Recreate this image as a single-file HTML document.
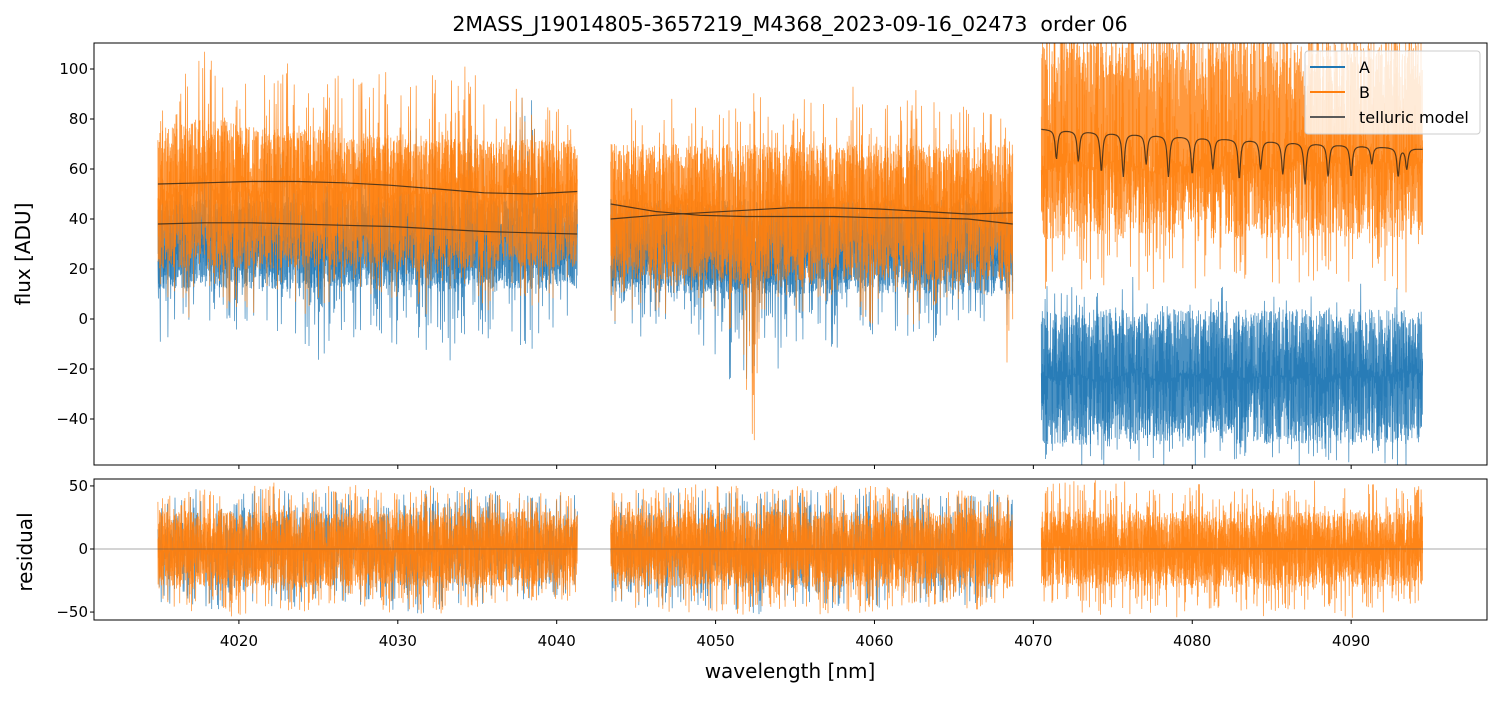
<!DOCTYPE html>
<html><head><meta charset="utf-8"><style>
body{margin:0;background:#fff}
svg text{font-family:"DejaVu Sans","Liberation Sans",sans-serif}
</style></head><body>
<svg id="c" width="1502" height="696" xmlns="http://www.w3.org/2000/svg"></svg>
<script>
// ---- data ----
const segStart=[4014.9,4043.4,4070.5];
const segEnd=[4041.3,4068.7,4094.5];
const aHi=[[55,62,68,72,75,68,72,80,70,75,72,70,68,75,70,72,78,70,75,80,72,70,85,110,75,70,65],
 [40,58,62,60,65,70,62,66,70,64,72,68,70,74,66,70,68,72,65,70,62,66,60,62,58,55],
 [15,10,14,12,10,14,18,12,10,15,14,12,16,10,14,15,12,14,10,14,15,12,14,18,15]];
const aLo=[[-15,-5,0,-10,-8,-5,0,-12,-5,-10,-20,-8,-15,-5,-20,-10,-8,-15,-25,-10,-12,-5,-10,-15,-8,-5,0],
 [-5,0,-10,-5,0,-8,-15,-25,-30,-20,-40,-10,-15,-10,-20,-8,-5,-10,-15,-5,-10,-5,0,-5,-10,0],
 [-60,-60,-58,-60,-60,-60,-58,-60,-60,-58,-60,-60,-60,-58,-60,-60,-60,-58,-60,-60,-60,-58,-60,-60,-60]];
const aCoreHi=[[48,48,48,48,48,48,48,48,48,48,48,48,48,48,48,48,48,48,48,48,48,48,48,48,48,48,48],
 [48,48,48,48,48,48,48,48,48,48,48,48,48,48,48,48,48,48,48,48,48,48,48,48,48,48],
 [4,4,2,4,4,4,2,4,4,4,4,4,2,4,4,4,4,4,4,4,4,4,4,4,4]];
const aCoreLo=[[12,12,12,12,12,12,12,12,12,12,12,12,12,12,12,12,12,12,12,12,12,12,12,12,12,12,12],
 [10,10,10,10,10,10,10,10,10,10,10,10,10,10,10,10,10,10,10,10,10,10,10,10,10,10],
 [-50,-50,-50,-50,-50,-50,-50,-50,-50,-50,-50,-50,-50,-50,-50,-50,-50,-50,-50,-50,-50,-50,-50,-50,-50]];
const bHi=[[80,95,105,110,100,110,95,100,105,98,110,100,95,105,100,90,95,100,98,105,95,90,100,95,92,90,85],
 [75,85,90,80,95,88,92,85,90,95,85,88,92,90,85,95,88,90,85,92,88,85,90,82,85,80],
 [112,112,112,112,112,112,112,112,112,112,112,112,112,112,112,112,112,112,112,112,112,112,112,112,105]];
const bLo=[[10,5,0,5,-10,5,0,5,10,0,5,0,10,5,-5,10,5,0,5,10,0,5,10,5,0,10,15],
 [-5,0,5,-3,0,5,0,-5,-10,-55,0,5,-5,0,5,0,-5,5,0,-5,5,0,10,5,0,-30],
 [5,10,15,8,12,15,10,5,15,10,12,8,15,10,12,5,15,10,15,12,10,15,12,10,20]];
const bCoreHi=[[76,78,80,80,80,78,78,76,76,76,76,76,74,74,74,74,72,72,72,72,72,72,72,72,72,72,72],
 [70,70,70,70,70,70,70,70,70,70,70,70,70,70,70,70,70,70,70,70,70,70,70,70,70,70],
 [115,115,115,115,115,115,115,115,115,115,115,115,115,115,115,115,115,115,115,115,115,115,115,115,110]];
const bCoreLo=[[20,20,20,20,20,20,20,20,20,20,20,20,20,20,20,20,20,20,20,20,20,20,20,20,20,20,20],
 [15,15,15,15,15,15,15,15,15,15,15,15,15,15,15,15,15,15,15,15,15,15,15,15,15,15],
 [32,32,32,32,32,32,32,32,32,32,32,32,32,32,32,32,32,32,32,32,32,32,32,32,32]];
const tellSeg1Up=[54,54.5,55,55,54.5,53.5,52,50.5,50,51];
const tellSeg1Lo=[38,38.5,38.5,38,37.5,37,36,35,34.5,34];
const tellSeg2a=[46,43,41.5,41,41,41,40.5,40.5,40,38];
const tellSeg2b=[40,41.5,42.5,43.5,44.5,44.5,44,43,42,42.5];
const tellCont=[76,75.5,75,74.5,74,73.5,73,72.5,72,71.5,71,70.5,70,69.5,69,68.5,68];
const dipW=[4071.45,4072.83,4074.28,4075.66,4077.1,4078.5,4080.0,4081.3,4082.96,4084.3,4085.7,4087.1,4088.55,4090.0,4091.3,4092.96,4093.5];
const dipV=[64,63,59,57,62,57,58,60,56,60,58,54,57,57,62,57,60];
const rHi=[[40,50,45,55,48,52,45,50,55,48,45,50],[45,50,55,52,48,55,50,52,48,45,50,45],[50,55,55,52,55,50,55,52,55,50,55,50]];
const rLo=[[-45,-50,-55,-48,-52,-45,-50,-55,-48,-45,-50,-40],[-45,-50,-55,-52,-55,-48,-55,-50,-48,-45,-50,-40],[-45,-50,-55,-52,-55,-50,-55,-52,-50,-55,-50,-45]];
const xTicks=[4020,4030,4040,4050,4060,4070,4080,4090];
const yTicks=[-40,-20,0,20,40,60,80,100];
const rTicks=[-50,0,50];

// ---- axes ----
const L=94,R=1487,T1=43,B1=465,T2=479,B2=620;
const xMin=4010.88,xMax=4098.55;
const X=w=>L+(w-xMin)/(xMax-xMin)*(R-L);
const Y=v=>T1+(110.4-v)/(110.4+58.4)*(B1-T1);
const YR=v=>T2+(55.5-v)/(55.5+56.3)*(B2-T2);
const svg=document.getElementById('c');
const NS='http://www.w3.org/2000/svg';
function el(t,a,p){const e=document.createElementNS(NS,t);for(const k in a)e.setAttribute(k,a[k]);(p||svg).appendChild(e);return e;}
const defs=el('defs',{});
const c1=el('clipPath',{id:'cp1'},defs);el('rect',{x:L,y:T1,width:R-L,height:B1-T1},c1);
const c2=el('clipPath',{id:'cp2'},defs);el('rect',{x:L,y:T2,width:R-L,height:B2-T2},c2);
const g1=el('g',{'clip-path':'url(#cp1)'});


const g2=el('g',{'clip-path':'url(#cp2)'});



// deterministic texture pattern (not data): fraction of envelope reached by each stroke
function tex(k){const s=Math.sin(k*12.9898+78.233)*43758.5453;return s-Math.floor(s);}
function band(g,s,hi,lo,yf,color,op,name,step,pw){
  const n=hi.length;let pts=[];const N=Math.round((segEnd[s]-segStart[s])/step);
  for(let k=0;k<=N;k++){
    const f=k/N*(n-1),i=Math.min(Math.floor(f),n-2),t=f-i;
    const h=hi[i]*(1-t)+hi[i+1]*t,l=lo[i]*(1-t)+lo[i+1]*t;
    const m=(h+l)/2, a=(h-l)/2*Math.pow(tex(k+s*9973+n+Math.round(step*1000)),pw);
    const v=(k%2==0)? m+a : m-a;
    pts.push(X(segStart[s]+(segEnd[s]-segStart[s])*k/N).toFixed(1)+','+yf(v).toFixed(1));
  }
  const p=el('polyline',{points:pts.join(' '),fill:'none',stroke:color,'stroke-width':0.8,opacity:op},g);
  
  
}
for(let s=0;s<3;s++){
  band(g1,s,aHi[s],aLo[s],Y,'#1f77b4',0.8,'series-a-seg'+(s+1),0.03,2.2);
  band(g1,s,aCoreHi[s],aCoreLo[s],Y,'#1f77b4',0.8,'series-a-core-seg'+(s+1),0.015,0.6);
}
for(let s=0;s<3;s++){
  band(g1,s,bHi[s],bLo[s],Y,'#ff7f0e',0.8,'series-b-seg'+(s+1),0.03,2.2);
  band(g1,s,bCoreHi[s],bCoreLo[s],Y,'#ff7f0e',0.8,'series-b-core-seg'+(s+1),0.013,0.7);
}
function wAt(s,i,n){return segStart[s]+(segEnd[s]-segStart[s])*i/(n-1);}
function curve(arr,s,name){
  const n=arr.length;const pts=arr.map((v,i)=>X(wAt(s,i,n)).toFixed(1)+','+Y(v).toFixed(1));
  const p=el('polyline',{points:pts.join(' '),fill:'none',stroke:'#3a2a1a',opacity:0.85,'stroke-width':1.2},g1);
  
  
}
curve(tellSeg1Up,0,'telluric-seg1-upper');curve(tellSeg1Lo,0,'telluric-seg1-lower');
curve(tellSeg2a,1,'telluric-seg2-a');curve(tellSeg2b,1,'telluric-seg2-b');
(function(){
  const pts=[];const N=600;const n=tellCont.length;
  for(let k=0;k<=N;k++){
    const w=segStart[2]+(segEnd[2]-segStart[2])*k/N;
    const f=k/N*(n-1),i=Math.min(Math.floor(f),n-2),t=f-i;
    let v=tellCont[i]*(1-t)+tellCont[i+1]*t;const c=v;
    for(let d=0;d<dipW.length;d++){const dx=(w-dipW[d])/0.09;v-= (c-dipV[d])/(1+dx*dx);}
    pts.push(X(w).toFixed(1)+','+Y(v).toFixed(1));
  }
  const p=el('polyline',{points:pts.join(' '),fill:'none',stroke:'#3a2a1a',opacity:0.85,'stroke-width':1.2},g1);
  
  
})();
for(let s=0;s<3;s++){
  if(s<2) band(g2,s,rHi[s].map(v=>v*0.95),rLo[s].map(v=>v*0.95),YR,'#1f77b4',0.8,'residual-a-seg'+(s+1),0.03,1.8);
  band(g2,s,rHi[s],rLo[s],YR,'#ff7f0e',0.8,'residual-b-seg'+(s+1),0.025,1.6);
  band(g2,s,rHi[s].map(()=>30),rLo[s].map(()=>-30),YR,'#ff7f0e',0.8,'residual-core-seg'+(s+1),0.015,0.7);
}
const zl=el('line',{x1:L,x2:R,y1:YR(0),y2:YR(0),stroke:'#555','stroke-width':0.6});


[[T1,B1],[T2,B2]].forEach(([t,b],j)=>{
  const r=el('rect',{x:L,y:t,width:R-L,height:b-t,fill:'none',stroke:'#000','stroke-width':1});
  
  
  xTicks.forEach(v=>el('line',{x1:X(v),x2:X(v),y1:b,y2:b+4,stroke:'#000'}));
});
xTicks.forEach(v=>{const t=el('text',{x:X(v),y:B2+26,'font-size':15,'text-anchor':'middle'});t.textContent=v;
  });
yTicks.forEach(v=>{el('line',{x1:L-4,x2:L,y1:Y(v),y2:Y(v),stroke:'#000'});
  const t=el('text',{x:L-6,y:Y(v)+5,'font-size':15,'text-anchor':'end'});t.textContent=v<0?'\u2212'+(-v):v;
  });
rTicks.forEach(v=>{el('line',{x1:L-4,x2:L,y1:YR(v),y2:YR(v),stroke:'#000'});
  const t=el('text',{x:L-6,y:YR(v)+5,'font-size':15,'text-anchor':'end'});t.textContent=v<0?'\u2212'+(-v):v;
  });
function txt(x,y,s,sz,name,rot){const t=el('text',{x:x,y:y,'font-size':sz,'text-anchor':'middle'});t.textContent=s;
  if(rot)t.setAttribute('transform','rotate(-90 '+x+' '+y+')');
  }
txt(790,31,'2MASS_J19014805-3657219_M4368_2023-09-16_02473\u00a0\u00a0order 06',20.5,'chart-title');
txt(790,678,'wavelength [nm]',20,'x-axis-title');
txt(30,254,'flux [ADU]',20,'y-axis-title',true);
txt(32,552,'residual',20,'residual-axis-title',true);
const lg=el('g',{});


el('rect',{x:1305,y:51,width:175,height:83,rx:3,fill:'#fff','fill-opacity':0.8,stroke:'#ccc'},lg);
[['A','#1f77b4'],['B','#ff7f0e'],['telluric model','#5a5a5a']].forEach(([n,c],i)=>{
  const y=67+i*25;
  el('line',{x1:1310,x2:1345,y1:y,y2:y,stroke:c,'stroke-width':2},lg);
  const t=el('text',{x:1359,y:y+6,'font-size':16},lg);t.textContent=n;
  
});
</script>
</body></html>
